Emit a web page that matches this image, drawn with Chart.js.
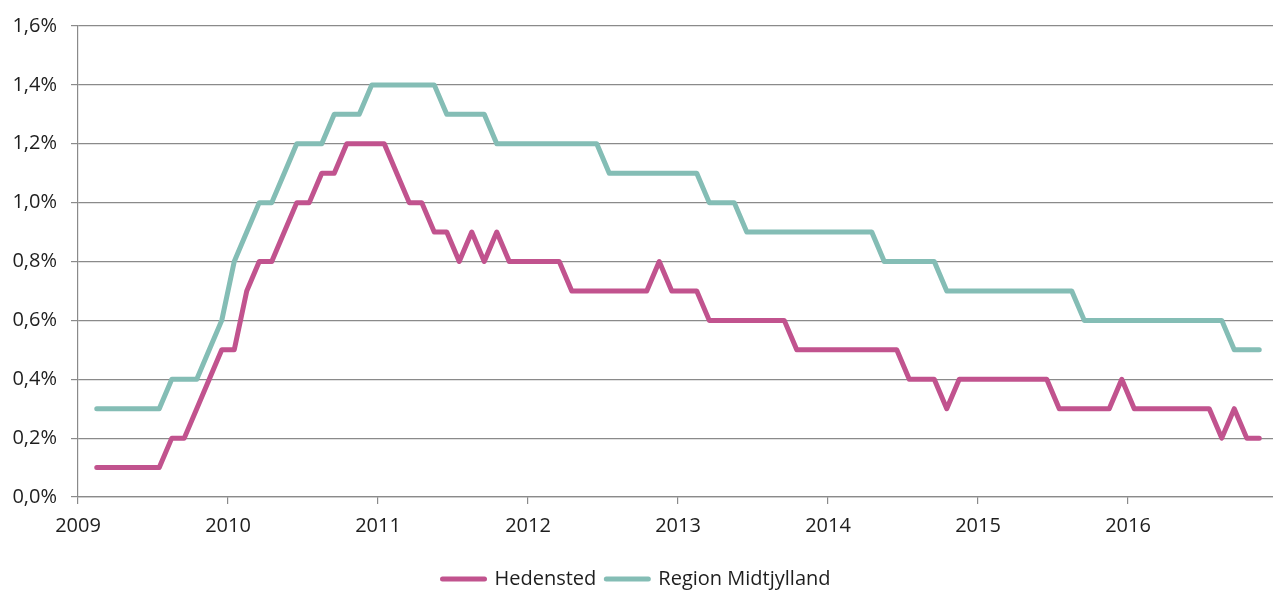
<!DOCTYPE html>
<html>
<head>
<meta charset="utf-8">
<script src="https://cdn.jsdelivr.net/npm/chart.js@4.4.1/dist/chart.umd.min.js"></script>
<style>
  html, body { margin: 0; padding: 0; background: #fff; }
  #wrap { width: 1273px; height: 590px; }
</style>
</head>
<body>
<div id="wrap"><canvas id="chart" width="1273" height="590"></canvas></div>
<script>
// monthly series, Feb 2009 .. Nov 2016
const firstMonth = '2009-02'
const yearLabels = ['2009', '2010', '2011', '2012', '2013', '2014', '2015', '2016']
const yTickLabels = ['0,0%', '0,2%', '0,4%', '0,6%', '0,8%', '1,0%', '1,2%', '1,4%', '1,6%']

const hedensted = [
  0.1, 0.1, 0.1, 0.1, 0.1, 0.1, 0.2, 0.2, 0.3, 0.4, 0.5,            // 2009
  0.5, 0.7, 0.8, 0.8, 0.9, 1.0, 1.0, 1.1, 1.1, 1.2, 1.2, 1.2,       // 2010
  1.2, 1.1, 1.0, 1.0, 0.9, 0.9, 0.8, 0.9, 0.8, 0.9, 0.8, 0.8,       // 2011
  0.8, 0.8, 0.8, 0.7, 0.7, 0.7, 0.7, 0.7, 0.7, 0.7, 0.8, 0.7,       // 2012
  0.7, 0.7, 0.6, 0.6, 0.6, 0.6, 0.6, 0.6, 0.6, 0.5, 0.5, 0.5,       // 2013
  0.5, 0.5, 0.5, 0.5, 0.5, 0.5, 0.4, 0.4, 0.4, 0.3, 0.4, 0.4,       // 2014
  0.4, 0.4, 0.4, 0.4, 0.4, 0.4, 0.3, 0.3, 0.3, 0.3, 0.3, 0.4,       // 2015
  0.3, 0.3, 0.3, 0.3, 0.3, 0.3, 0.3, 0.2, 0.3, 0.2, 0.2             // 2016
]
const regionMidtjylland = [
  0.3, 0.3, 0.3, 0.3, 0.3, 0.3, 0.4, 0.4, 0.4, 0.5, 0.6,            // 2009
  0.8, 0.9, 1.0, 1.0, 1.1, 1.2, 1.2, 1.2, 1.3, 1.3, 1.3, 1.4,       // 2010
  1.4, 1.4, 1.4, 1.4, 1.4, 1.3, 1.3, 1.3, 1.3, 1.2, 1.2, 1.2,       // 2011
  1.2, 1.2, 1.2, 1.2, 1.2, 1.2, 1.1, 1.1, 1.1, 1.1, 1.1, 1.1,       // 2012
  1.1, 1.1, 1.0, 1.0, 1.0, 0.9, 0.9, 0.9, 0.9, 0.9, 0.9, 0.9,       // 2013
  0.9, 0.9, 0.9, 0.9, 0.8, 0.8, 0.8, 0.8, 0.8, 0.7, 0.7, 0.7,       // 2014
  0.7, 0.7, 0.7, 0.7, 0.7, 0.7, 0.7, 0.7, 0.6, 0.6, 0.6, 0.6,       // 2015
  0.6, 0.6, 0.6, 0.6, 0.6, 0.6, 0.6, 0.6, 0.5, 0.5, 0.5             // 2016
]

// month number since Jan 2009, placed in the middle of its month
const startIdx = +firstMonth.slice(5, 7) - 1
const monthPos = i => startIdx + i + 0.5
const toPoints = arr => arr.map((v, i) => ({ x: monthPos(i), y: v }))

const GRID = '#8a8a8a'

Chart.defaults.font.family = '"Open Sans", Roboto, sans-serif'
Chart.defaults.font.size = 20
Chart.defaults.color = '#1e1e1e'

// nudge the legend a bit lower, closer to the bottom edge
const legendShift = {
  id: 'legendShift',
  afterLayout(chart) {
    chart.legend.top += 9
    chart.legend.bottom += 9
  }
}

new Chart(document.getElementById('chart'), {
  type: 'line',
  data: {
    datasets: [
      {
        label: 'Hedensted',
        data: toPoints(hedensted),
        borderColor: '#c1538e',
        backgroundColor: '#c1538e',
      },
      {
        label: 'Region Midtjylland',
        data: toPoints(regionMidtjylland),
        borderColor: '#84bdb5',
        backgroundColor: '#84bdb5',
      }
    ]
  },
  plugins: [legendShift],
  options: {
    responsive: false,
    animation: false,
    layout: { padding: { top: 26, right: 0, left: 0, bottom: 0 } },
    elements: {
      line: { borderWidth: 5, tension: 0, borderCapStyle: 'round', borderJoinStyle: 'round' },
      point: { radius: 0 }
    },
    scales: {
      x: {
        type: 'linear',
        min: 0,
        max: 95.6,
        afterFit: s => { s.height = 53 },
        grid: { drawOnChartArea: false, drawTicks: true, tickLength: 7, color: GRID, lineWidth: 1.2 },
        border: { color: GRID, width: 1.2 },
        ticks: {
          stepSize: 12,
          includeBounds: false,
          maxRotation: 0,
          padding: 10,
          callback: v => yearLabels[v / 12]
        }
      },
      y: {
        min: 0,
        max: 1.6,
        afterFit: s => { s.width = 78 },
        grid: { color: GRID, lineWidth: 1.2, tickLength: 7 },
        border: { color: GRID, width: 1.2 },
        ticks: {
          stepSize: 0.2,
          padding: 14,
          callback: (v, i) => yTickLabels[i]
        }
      }
    },
    plugins: {
      tooltip: { enabled: false },
      legend: {
        position: 'bottom',
        labels: {
          usePointStyle: true,
          pointStyle: 'line',
          pointStyleWidth: 42,
          boxHeight: 5,
          padding: 10,
          generateLabels: chart =>
            Chart.defaults.plugins.legend.labels.generateLabels(chart)
              .map(l => ({ ...l, lineWidth: 5, lineCap: 'round' }))
        }
      }
    }
  }
})
</script>
</body>
</html>
